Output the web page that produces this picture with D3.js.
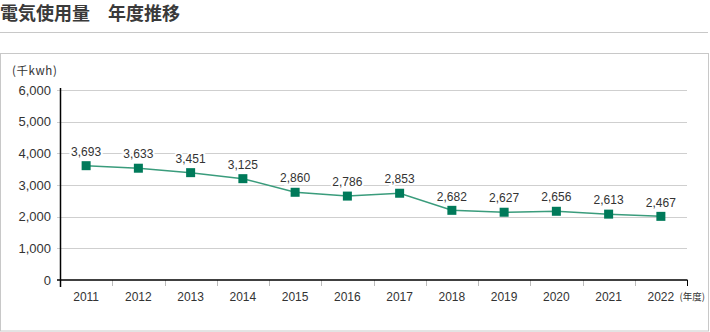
<!DOCTYPE html>
<html lang="ja">
<head>
<meta charset="utf-8">
<script src="https://cdn.jsdelivr.net/npm/d3@7"></script>
<style>
  html, body { margin: 0; padding: 0; background: #fff; }
  svg { display: block; font-family: "Liberation Sans", Arial, "Noto Sans CJK JP", sans-serif; }
</style>
</head>
<body>
<svg id="chart" width="710" height="332"></svg>
<script>
// Chart data
const years = ['2011', '2012', '2013', '2014', '2015', '2016', '2017', '2018', '2019', '2020', '2021', '2022'];
// value labels printed above each marker (千kwh)
const usageLabels = [3693, 3633, 3451, 3125, 2860, 2786, 2853, 2682, 2627, 2656, 2613, 2467];
// marker heights as drawn in the source picture (they do not follow the labels exactly)
const plottedValues = [3610, 3530, 3390, 3200, 2770, 2650, 2740, 2200, 2140, 2170, 2080, 2010];
const yTicks = [0, 1000, 2000, 3000, 4000, 5000, 6000];

const svg = d3.select('#chart');
const plot = { left: 60, right: 687, top: 90, bottom: 280 };

const lineColor = '#3a9c7c';
const markerColor = '#007a5a';
const textColor = '#333';

// Title + rule
svg.append('text')
  .attr('x', 0)
  .attr('y', 20)
  .attr('font-family', '"Noto Sans CJK JP", sans-serif')
  .attr('font-size', 18)
  .attr('font-weight', 'bold')
  .attr('fill', '#3a3a3a')
  .text('電気使用量\u3000年度推移');

svg.append('line')
  .attr('x1', 0).attr('x2', 708)
  .attr('y1', 32.5).attr('y2', 32.5)
  .attr('stroke', '#c8c8c8').attr('stroke-width', 1);

// Frame around the chart
svg.append('rect')
  .attr('x', 0.5).attr('y', 53.5)
  .attr('width', 708).attr('height', 277.5)
  .attr('fill', 'none')
  .attr('stroke', '#c8c8c8').attr('stroke-width', 1);

// Scales
const x = d3.scaleBand()
  .domain(years)
  .range([plot.left, plot.right]);

const y = d3.scaleLinear()
  .domain([0, 6000])
  .range([plot.bottom, plot.top]);

// Gridlines
svg.append('g')
  .selectAll('line.grid')
  .data(yTicks.filter(t => t > 0))
  .join('line')
  .attr('class', 'grid')
  .attr('x1', plot.left - 3).attr('x2', plot.right)
  .attr('y1', d => Math.round(y(d)) + 0.5)
  .attr('y2', d => Math.round(y(d)) + 0.5)
  .attr('stroke', '#cfcfcf').attr('stroke-width', 1);

// Y axis labels
svg.append('g')
  .selectAll('text')
  .data(yTicks)
  .join('text')
  .attr('x', 51)
  .attr('y', d => y(d))
  .attr('dy', '0.35em')
  .attr('text-anchor', 'end')
  .attr('font-size', 13)
  .attr('fill', textColor)
  .text(d => d3.format(',')(d));

// Unit label
svg.append('text')
  .attr('x', 12).attr('y', 75)
  .attr('font-family', '"Noto Sans CJK JP", sans-serif')
  .attr('font-size', 11.5)
  .attr('letter-spacing', 0.6)
  .attr('fill', textColor)
  .text('(千kwh)');

// Category boundary ticks
const boundaries = years.slice(1).map(yr => x(yr)).concat([plot.right]);
svg.append('g')
  .selectAll('line')
  .data(boundaries)
  .join('line')
  .attr('x1', d => Math.round(d) + 0.5).attr('x2', d => Math.round(d) + 0.5)
  .attr('y1', plot.bottom).attr('y2', plot.bottom + 6)
  .attr('stroke', (d, i) => i === boundaries.length - 1 ? '#000' : '#bbb')
  .attr('stroke-width', 1);

// Axes lines
svg.append('line')
  .attr('x1', plot.left + 0.5).attr('x2', plot.left + 0.5)
  .attr('y1', plot.top - 2).attr('y2', plot.bottom + 7)
  .attr('stroke', '#000').attr('stroke-width', 1.5);

svg.append('line')
  .attr('x1', plot.left - 3).attr('x2', plot.right + 0.5)
  .attr('y1', plot.bottom).attr('y2', plot.bottom)
  .attr('stroke', '#000').attr('stroke-width', 1.5);

// X labels
svg.append('g')
  .selectAll('text')
  .data(years)
  .join('text')
  .attr('x', d => x(d) + x.bandwidth() / 2)
  .attr('y', 301)
  .attr('text-anchor', 'middle')
  .attr('font-size', 12)
  .attr('fill', textColor)
  .text(d => d);

svg.append('text')
  .attr('x', 705).attr('y', 300)
  .attr('text-anchor', 'end')
  .attr('font-family', '"Noto Sans CJK JP", sans-serif')
  .attr('font-size', 9.5)
  .attr('fill', textColor)
  .text('(年度)');

// Line
const points = years.map((yr, i) => ({ year: yr, value: plottedValues[i], label: usageLabels[i] }));

svg.append('path')
  .datum(points)
  .attr('fill', 'none')
  .attr('stroke', lineColor)
  .attr('stroke-width', 1.5)
  .attr('d', d3.line()
    .x(d => x(d.year) + x.bandwidth() / 2)
    .y(d => y(d.value)));

// Markers
const size = 9;
svg.append('g')
  .selectAll('rect')
  .data(points)
  .join('rect')
  .attr('x', d => x(d.year) + x.bandwidth() / 2 - size / 2)
  .attr('y', d => y(d.value) - size / 2)
  .attr('width', size).attr('height', size)
  .attr('fill', markerColor);

// Value labels (white halo breaks the gridlines like the original)
svg.append('g')
  .selectAll('text')
  .data(points)
  .join('text')
  .attr('x', d => x(d.year) + x.bandwidth() / 2)
  .attr('y', d => y(d.value) - 14)
  .attr('dy', '0.35em')
  .attr('text-anchor', 'middle')
  .attr('font-size', 12)
  .attr('fill', textColor)
  .attr('stroke', '#fff')
  .attr('stroke-width', 4)
  .attr('paint-order', 'stroke')
  .text(d => d3.format(',')(d.label));
</script>
</body>
</html>
